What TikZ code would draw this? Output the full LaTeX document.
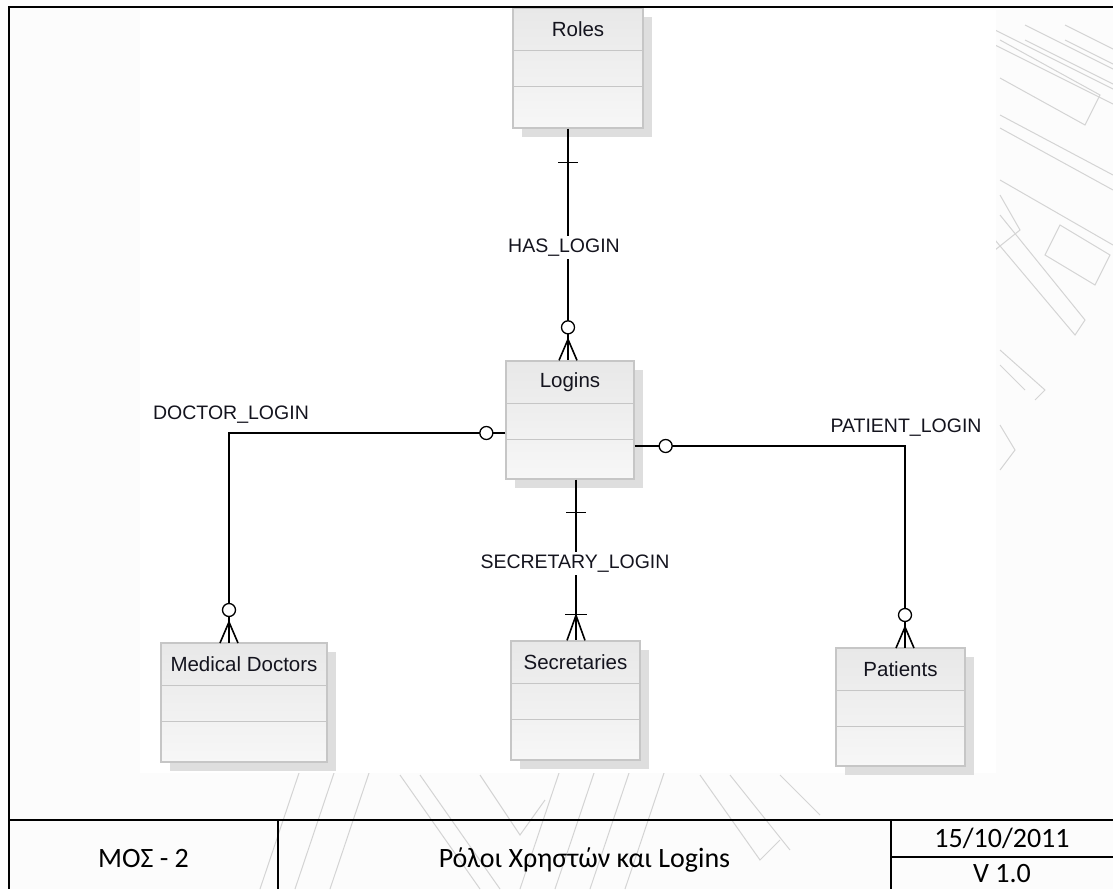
\documentclass[tikz,border=0pt]{standalone}
\usepackage{fontspec}
\setmainfont{Liberation Sans}
\newfontfamily\calibri{Carlito}
\usetikzlibrary{calc}

\definecolor{pagebg}{HTML}{FCFCFC}
\definecolor{boxline}{HTML}{C6C6C6}
\definecolor{boxtop}{HTML}{E8E8E8}
\definecolor{boxbot}{HTML}{F7F7F7}
\definecolor{shadowgray}{HTML}{DEDEDE}
\definecolor{wmark}{HTML}{D4D4D4}
\definecolor{ink}{HTML}{14141E}

\tikzset{
  entity/.style={draw=boxline, line width=1.3pt, top color=boxtop, bottom color=boxbot, inner sep=0pt},
  etitle/.style={font=\fontsize{20.5}{24}\selectfont, text=ink, inner sep=0pt},
  rlabel/.style={font=\fontsize{19.5}{23}\selectfont, text=ink, fill=white, inner sep=3pt},
  rel/.style={line width=1.6pt, black},
  zero/.style={line width=1.3pt, draw=black, fill=white},
  frame/.style={line width=2.6pt, black},
  cell/.style={font=\calibri\fontsize{28}{32}\selectfont, text=black, inner sep=0pt},
  wm/.style={draw=wmark, line width=1pt}
}

% entity box: name, centre x, centre y, width, height, title
\newcommand\erentity[6]{%
  \fill[shadowgray] (#2-#4/2+9, #3-#5/2+9) rectangle (#2+#4/2+9, #3+#5/2+9);
  \node[entity, minimum width=#4, minimum height=#5] (#1) at (#2,#3) {};
  \draw[boxline, line width=1.3pt] ($(#1.north west)+(0,43)$) -- ($(#1.north east)+(0,43)$);
  \draw[boxline, line width=1.3pt] ($(#1.north west)+(0,79)$) -- ($(#1.north east)+(0,79)$);
  \node[etitle] (#1-title) at ($(#1.north)+(0,22)$) {#6};
}

% crow's foot with an open circle: end point on the box, unit direction away from the box
\newcommand\manyzero[3]{% anchor coordinate, dx, dy (towards the line)
  \draw[rel] ($(#1)+(#2*21,#3*21)$) -- ($(#1)+(-#3*9,#2*9)$);
  \draw[rel] ($(#1)+(#2*21,#3*21)$) -- (#1);
  \draw[rel] ($(#1)+(#2*21,#3*21)$) -- ($(#1)+(#3*9,-#2*9)$);
  \draw[zero] ($(#1)+(#2*33,#3*33)$) circle[radius=6.5];
}

\begin{document}
\begin{tikzpicture}[x=1pt,y=-1pt]
\useasboundingbox (0,0) rectangle (1113,889);
\fill[pagebg] (0,0) rectangle (1113,889);

% faint watermark strips behind the diagram
\begin{scope}
  \clip (0,0) rectangle (1113,889);
  \foreach \dx in {0,40,80} {
    \draw[wm] (985+\dx,25) -- (1125+\dx,95);
    \draw[wm] (985+\dx,40) -- (1125+\dx,110);
  }
  \draw[wm] (1000,40) -- (1100,95) -- (1085,125) -- (1000,78);
  \draw[wm] (1000,115) -- (1113,175);
  \draw[wm] (1000,128) -- (1113,190);
  \draw[wm] (1000,180) -- (1113,245);
  \draw[wm] (1000,195) -- (1020,230) -- (995,250);
  \draw[wm] (1060,225) -- (1110,255) -- (1095,285) -- (1045,255) -- cycle;
  \draw[wm] (1000,215) -- (1085,320) -- (1075,335) -- (995,240);
  \draw[wm] (1000,350) -- (1045,390) -- (1035,400);
  \draw[wm] (1000,365) -- (1025,390);
  \draw[wm] (1000,425) -- (1015,450) -- (1000,470);
  \foreach \sx in {300,335,370,560,595,630,665} {
    \draw[wm] (\sx,770) -- (\sx-40,889);
  }
  \draw[wm] (400,775) -- (480,889);
  \draw[wm] (420,775) -- (500,889);
  \draw[wm] (700,775) -- (760,860) -- (780,840);
  \draw[wm] (730,775) -- (790,850);
  \draw[wm] (480,775) -- (520,835) -- (545,800);
  \draw[wm] (780,775) -- (820,815);
\end{scope}

% diagram canvas
\fill[white] (140,10) rectangle (996,773);

% entities
\erentity{roles}{578}{68}{130}{120}{Roles}
\erentity{logins}{570}{420}{128}{118}{Logins}
\erentity{doctors}{244}{702.5}{166}{119}{Medical Doctors}
\erentity{secretaries}{575.5}{700.5}{129}{119}{Secretaries}
\erentity{patients}{900.5}{707}{129}{118}{Patients}

% HAS_LOGIN: Roles (one) to Logins (zero or many)
\coordinate (hl-a) at ($(roles.south)+(-10,0)$);
\coordinate (hl-b) at (hl-a |- logins.north);
\draw[rel] (hl-a) -- ($(hl-b)+(0,-21)$);
\draw[rel] ($(hl-a)+(-10,34)$) -- ($(hl-a)+(10,34)$);
\manyzero{hl-b}{0}{-1}
\node[rlabel] (hl-lab) at ($(hl-a)!0.5!(hl-b)+(-4,3)$) {HAS\_LOGIN};

% DOCTOR_LOGIN: Logins (zero or one) to Medical Doctors (zero or many)
\coordinate (dl-a) at ($(logins.west)+(0,13)$);
\coordinate (dl-c) at (229,643);
\coordinate (dl-b) at (dl-c |- dl-a);
\draw[rel] (dl-a) -- (dl-b) -- ($(dl-c)+(0,-21)$);
\draw[zero] ($(dl-a)+(-19,0)$) circle[radius=6.5];
\manyzero{dl-c}{0}{-1}
\node[rlabel, fill=none] (dl-lab) at (231,415) {DOCTOR\_LOGIN};

% PATIENT_LOGIN: Logins (zero or one) to Patients (zero or many)
\coordinate (pl-a) at ($(logins.east)+(0,26)$);
\coordinate (pl-c) at (905,648);
\coordinate (pl-b) at (pl-c |- pl-a);
\draw[rel] (pl-a) -- (pl-b) -- ($(pl-c)+(0,-21)$);
\draw[zero] ($(pl-a)+(31,0)$) circle[radius=6.5];
\manyzero{pl-c}{0}{-1}
\node[rlabel, fill=none] (pl-lab) at (906,428) {PATIENT\_LOGIN};

% SECRETARY_LOGIN: Logins (one) to Secretaries (one or many)
\coordinate (sl-a) at ($(logins.south)+(6,0)$);
\coordinate (sl-b) at (sl-a |- secretaries.north);
\draw[rel] (sl-a) -- (sl-b);
\draw[rel] ($(sl-a)+(-10,33)$) -- ($(sl-a)+(10,33)$);
\draw[rel] ($(sl-b)+(-11,-26)$) -- ($(sl-b)+(11,-26)$);
\draw[rel] ($(sl-b)+(0,-25)$) -- ($(sl-b)+(-9,0)$);
\draw[rel] ($(sl-b)+(0,-25)$) -- ($(sl-b)+(9,0)$);
\node[rlabel] (sl-lab) at ($(sl-a)+(-1,84)$) {SECRETARY\_LOGIN};

% page frame and title block
\draw[frame] (1113,7) -- (9,7) -- (9,889);
\draw[frame] (9,820) -- (1113,820);
\draw[frame] (278,820) -- (278,889);
\draw[frame] (891,820) -- (891,889);
\draw[frame] (891,857) -- (1113,857);
\node[cell] (code) at (143.5,858) {ΜΟΣ - 2};
\node[cell] (title) at (584.5,860) {Ρόλοι Χρηστών και Logins};
\node[cell] (date) at (1002,838) {15/10/2011};
\node[cell] (ver) at (1002,874) {V 1.0};
\end{tikzpicture}
\end{document}
